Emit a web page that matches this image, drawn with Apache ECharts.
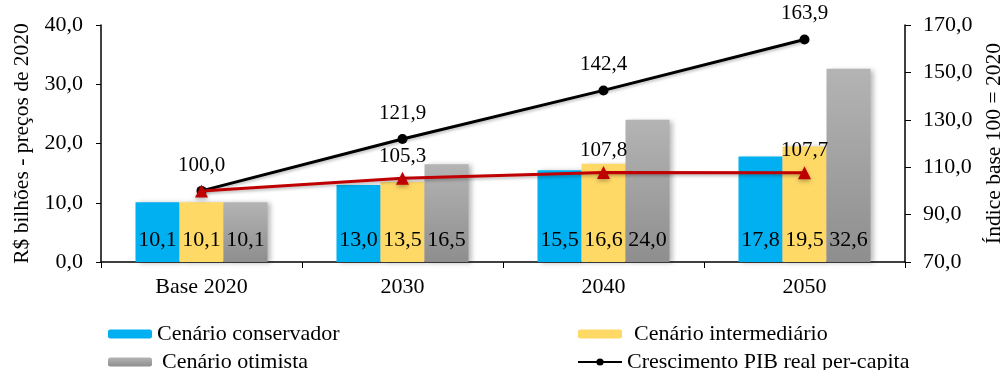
<!DOCTYPE html>
<html>
<head>
<meta charset="utf-8">
<script src="https://cdn.jsdelivr.net/npm/echarts@6/dist/echarts.min.js"></script>
<style>
  html, body { margin: 0; padding: 0; background: #fff; }
  #chart { width: 1005px; height: 370px; }
</style>
</head>
<body>
<div id="chart"></div>
<script>
// Categories and series values
const categories = ['Base 2020', '2030', '2040', '2050'];
const conservador = [10.1, 13.0, 15.5, 17.8];
const intermediario = [10.1, 13.5, 16.6, 19.5];
const otimista = [10.1, 16.5, 24.0, 32.6];
const pibPerCapita = [100.0, 121.9, 142.4, 163.9];
const indiceReceita = [100.0, 105.3, 107.8, 107.7];

const FONT = '"Liberation Serif", "Times New Roman", serif';
const fmt = v => Number(v).toFixed(1).replace('.', ',');

const barShadow = { shadowBlur: 5, shadowOffsetX: 3, shadowOffsetY: 1, shadowColor: 'rgba(0,0,0,0.28)' };

const barLabel = {
  show: true,
  position: 'insideBottom',
  distance: 11,
  color: '#000',
  fontFamily: FONT,
  fontSize: 22,
  formatter: p => fmt(p.value)
};

// one legend block per entry, laid out in two columns
const legendItem = (name, left, top, textPad) => ({
  left: left, top: top,
  itemWidth: 44, itemHeight: 9, itemGap: 0,
  textStyle: { fontFamily: FONT, fontSize: 22, color: '#000', padding: [0, 0, 0, textPad] },
  data: [name]
});

const chart = echarts.init(document.getElementById('chart'), null, { renderer: 'canvas' });

chart.setOption({
  animation: false,
  backgroundColor: '#fff',
  textStyle: { fontFamily: FONT, color: '#000' },
  grid: { left: 101, right: 100, top: 25, bottom: 108, containLabel: false, outerBoundsMode: 'none' },
  legend: [
    legendItem('Cenário conservador', 103, 318, 0),
    legendItem('Cenário otimista', 103, 346, 5),
    legendItem('Cenário intermediário', 573, 318, 7),
    legendItem('Crescimento PIB real per-capita', 572, 346, 0)
  ],
  xAxis: {
    type: 'category',
    data: categories,
    axisLine: { lineStyle: { color: '#000', width: 1.5 } },
    axisTick: { show: true, alignWithLabel: false, length: 6, lineStyle: { color: '#000' } },
    axisLabel: { color: '#000', fontFamily: FONT, fontSize: 22, margin: 14 }
  },
  yAxis: [
    {
      type: 'value', min: 0, max: 40, interval: 10,
      name: 'R$ bilhões - preços de 2020',
      nameLocation: 'middle', nameGap: 58,
      nameTextStyle: { color: '#000', fontFamily: FONT, fontSize: 21.5 },
      axisLine: { show: true, lineStyle: { color: '#000', width: 1.5 } },
      axisTick: { show: true, length: 5, lineStyle: { color: '#000' } },
      axisLabel: { color: '#000', fontFamily: FONT, fontSize: 22, margin: 18, formatter: v => fmt(v) },
      splitLine: { show: false }
    },
    {
      type: 'value', min: 70, max: 170, interval: 20,
      name: 'Índice base 100 = 2020',
      nameLocation: 'middle', nameGap: 70, nameRotate: 90,
      nameTextStyle: { color: '#000', fontFamily: FONT, fontSize: 21.5 },
      axisLine: { show: true, lineStyle: { color: '#000', width: 1.5 } },
      axisTick: { show: true, length: 6, lineStyle: { color: '#000' } },
      axisLabel: { color: '#000', fontFamily: FONT, fontSize: 22, margin: 18, formatter: v => fmt(v) },
      splitLine: { show: false }
    }
  ],
  series: [
    {
      name: 'Cenário conservador', type: 'bar', data: conservador,
      barWidth: 44, barGap: '0%',
      itemStyle: Object.assign({ color: '#00B0F0' }, barShadow),
      label: barLabel
    },
    {
      name: 'Cenário intermediário', type: 'bar', data: intermediario,
      barWidth: 44, barGap: '0%',
      itemStyle: Object.assign({ color: '#FFD966' }, barShadow),
      label: barLabel
    },
    {
      name: 'Cenário otimista', type: 'bar', data: otimista,
      barWidth: 44, barGap: '0%',
      itemStyle: Object.assign({
        color: new echarts.graphic.LinearGradient(0, 0, 0, 1, [
          { offset: 0, color: '#B4B4B4' },
          { offset: 1, color: '#8E8E8E' }
        ])
      }, barShadow),
      label: barLabel
    },
    {
      name: 'Crescimento PIB real per-capita', type: 'line', yAxisIndex: 1,
      data: pibPerCapita,
      symbol: 'circle', symbolSize: 10,
      lineStyle: { color: '#000', width: 3, shadowBlur: 3, shadowOffsetY: 2, shadowColor: 'rgba(0,0,0,0.25)' },
      itemStyle: { color: '#000' },
      label: {
        show: true, position: 'top', distance: 10,
        color: '#000', fontFamily: FONT, fontSize: 21,
        formatter: p => fmt(p.value)
      },
      z: 3
    },
    {
      name: 'Índice receita', type: 'line', yAxisIndex: 1,
      data: indiceReceita.map((v, i) => ({
        value: v,
        label: { show: i > 0 }
      })),
      symbol: 'triangle', symbolSize: 13,
      lineStyle: { color: '#C00000', width: 3, shadowBlur: 3, shadowOffsetY: 2, shadowColor: 'rgba(0,0,0,0.25)' },
      itemStyle: { color: '#C00000', shadowBlur: 4, shadowOffsetY: 2, shadowColor: 'rgba(0,0,0,0.3)' },
      label: {
        show: true, position: 'top', distance: 5,
        color: '#000', fontFamily: FONT, fontSize: 21,
        formatter: p => fmt(p.value)
      },
      z: 4
    }
  ]
});
</script>
</body>
</html>
